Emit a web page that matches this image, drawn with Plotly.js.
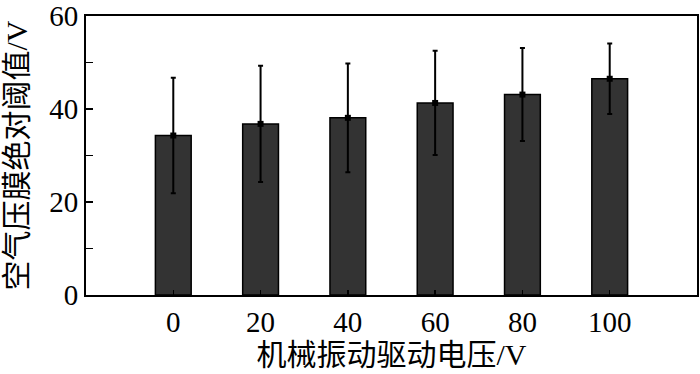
<!DOCTYPE html>
<html>
<head>
<meta charset="utf-8">
<script src="https://cdn.plot.ly/plotly-3.0.1.min.js"></script>
<style>html,body{margin:0;padding:0;background:#fff;}#chart{width:700px;height:374px;}</style>
</head>
<body>
<div id="chart"></div>
<script>
const voltages = [0, 20, 40, 60, 80, 100];
const thresholds = [34.3, 36.8, 38.1, 41.3, 43.1, 46.5];
const errors = [12.4, 12.5, 11.7, 11.2, 10.0, 7.6];
const yTickVals = [0, 10, 20, 30, 40, 50, 60];
const yTickText = ["0", "", "20", "", "40", "", "60"];
const xTitle = "机械振动驱动电压/V";
const yTitle = "空气压膜绝对阈值/V";

const serif = '"Liberation Serif", "Times New Roman", "Noto Sans CJK SC", serif';
const cjk = '"Liberation Serif", "Noto Sans CJK SC", serif';

const traces = [
  {
    type: 'bar',
    x: voltages,
    y: thresholds,
    width: 8.2,
    marker: {color: '#333333', line: {color: '#000000', width: 1.5}},
    hoverinfo: 'skip'
  },
  {
    type: 'scatter',
    mode: 'markers',
    x: voltages,
    y: thresholds,
    marker: {symbol: 'square', size: 6, color: '#000000'},
    error_y: {type: 'data', array: errors, visible: true, color: '#000000', thickness: 2, width: 2.5},
    hoverinfo: 'skip'
  }
];

const layout = {
  width: 700,
  height: 374,
  margin: {l: 86, r: 3, t: 16, b: 79},
  paper_bgcolor: '#ffffff',
  plot_bgcolor: '#ffffff',
  showlegend: false,
  font: {family: serif, color: '#000000', size: 24},
  xaxis: {
    range: [-20, 120],
    tickvals: voltages,
    ticktext: voltages.map(String),
    ticks: 'inside',
    ticklen: 5,
    tickwidth: 1.5,
    tickcolor: '#000',
    showline: true,
    linecolor: '#000',
    linewidth: 2,
    mirror: true,
    showgrid: false,
    zeroline: false,
    tickfont: {family: serif, size: 29},
    ticklabelstandoff: 0,
    title: {text: xTitle, font: {family: cjk, size: 30}, standoff: 6}
  },
  yaxis: {
    range: [0, 60],
    tickvals: yTickVals,
    ticktext: yTickText,
    ticks: 'inside',
    ticklen: 7,
    tickwidth: 1.5,
    tickcolor: '#000',
    showline: true,
    linecolor: '#000',
    linewidth: 2,
    mirror: true,
    showgrid: false,
    zeroline: false,
    tickfont: {family: serif, size: 29},
    ticklabeloverflow: 'allow',
    title: {text: yTitle, font: {family: cjk, size: 30}, standoff: 13}
  }
};

Plotly.newPlot('chart', traces, layout, {staticPlot: true});
</script>
</body>
</html>
